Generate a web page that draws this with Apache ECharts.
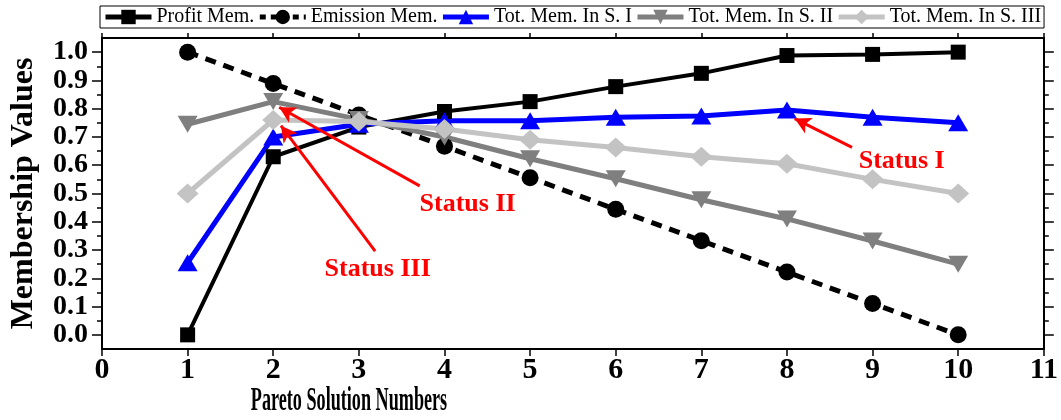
<!DOCTYPE html>
<html>
<head>
<meta charset="utf-8">
<script src="https://cdn.jsdelivr.net/npm/echarts@6/dist/echarts.min.js"></script>
<style>
  html, body { margin: 0; padding: 0; background: #fff; }
  #chart { width: 1061px; height: 420px; }
</style>
</head>
<body>
<div id="chart"></div>
<script>
// Pareto solutions and membership values per objective / status
const solutionNumbers = [1, 2, 3, 4, 5, 6, 7, 8, 9, 10];
const profitMem   = [0.0, 0.63, 0.735, 0.79, 0.825, 0.878, 0.925, 0.988, 0.992, 1.0];
const emissionMem = [1.0, 0.889, 0.778, 0.667, 0.556, 0.444, 0.333, 0.222, 0.111, 0.0];
const totMemS1    = [0.255, 0.70, 0.745, 0.757, 0.757, 0.77, 0.774, 0.795, 0.77, 0.75];
const totMemS2    = [0.745, 0.825, 0.762, 0.70, 0.623, 0.552, 0.478, 0.41, 0.332, 0.25];
const totMemS3    = [0.50, 0.76, 0.755, 0.728, 0.69, 0.663, 0.63, 0.605, 0.55, 0.50];

const seriesNames = ['Profit Mem.', 'Emission Mem.', 'Tot. Mem. In S. I', 'Tot. Mem. In S. II', 'Tot. Mem. In S. III'];
const xTicks = [0, 1, 2, 3, 4, 5, 6, 7, 8, 9, 10, 11];
const yTicks = [0.0, 0.1, 0.2, 0.3, 0.4, 0.5, 0.6, 0.7, 0.8, 0.9, 1.0];
const yMinorTicks = [0.05, 0.15, 0.25, 0.35, 0.45, 0.55, 0.65, 0.75, 0.85, 0.95];
const statusLabels = ['Status I', 'Status II', 'Status III'];

const SERIF = '"Liberation Serif", "Times New Roman", serif';
const Y_MIN = -0.05, Y_MAX = 1.05;

// annotation layout: arrow tail -> head and text anchor, in data units
const annotations = [
  { text: statusLabels[0], tail: [8.76, 0.663], head: [8.09, 0.765], at: [9.34, 0.615] },
  { text: statusLabels[1], tail: [3.71, 0.527], head: [2.07, 0.805], at: [4.27, 0.463] },
  { text: statusLabels[2], tail: [3.19, 0.296], head: [2.09, 0.74],  at: [3.22, 0.232] }
];

const pairs = arr => arr.map((v, i) => [solutionNumbers[i], v]);

function lineSeries(name, data, color, symbol, symbolSize, extra) {
  return Object.assign({
    name: name,
    type: 'line',
    data: pairs(data),
    symbol: symbol,
    symbolSize: symbolSize,
    itemStyle: { color: color, borderWidth: 0 },
    lineStyle: { color: color, width: 5 },
    emphasis: { disabled: true },
    animation: false
  }, extra || {});
}

function yAxisDef(position, ticks, len, labels) {
  return {
    type: 'value',
    position: position,
    min: Y_MIN,
    max: Y_MAX,
    axisLine: { show: labels, onZero: false, lineStyle: { color: '#000', width: 2 } },
    axisTick: { show: true, customValues: ticks, length: len, inside: false, lineStyle: { color: '#000', width: 1.5 } },
    axisLabel: labels && position === 'left' ? {
      show: true, customValues: yTicks, margin: 14,
      hideOverlap: false,
      showMinLabel: true, showMaxLabel: true,
      lineHeight: 20,
      formatter: v => v.toFixed(1),
      color: '#000', fontFamily: SERIF, fontWeight: 'bold', fontSize: 28
    } : { show: false },
    splitLine: { show: false }
  };
}

const chart = echarts.init(document.getElementById('chart'), null, { renderer: 'canvas' });

chart.setOption({
  backgroundColor: '#fff',
  animation: false,
  grid: { left: 97, right: 16, top: 38, bottom: 71, containLabel: false },
  legend: {
    data: [
      { name: seriesNames[0], lineStyle: { width: 5, color: '#000' } },
      { name: seriesNames[1], lineStyle: { width: 5, color: '#000', type: [6, 5] } },
      { name: seriesNames[2], lineStyle: { width: 5, color: '#0000FF' } },
      { name: seriesNames[3], lineStyle: { width: 5, color: '#7F7F7F' } },
      { name: seriesNames[4], lineStyle: { width: 5, color: '#C3C3C3' } }
    ],
    left: 100,
    top: 6,
    itemWidth: 46,
    itemHeight: 18,
    itemGap: 3,
    padding: [1, 3],
    borderColor: '#000',
    borderWidth: 1,
    backgroundColor: '#fff',
    textStyle: { color: '#000', fontFamily: SERIF, fontSize: 20 },
    selectedMode: false
  },
  xAxis: [
    {
      type: 'value', position: 'bottom', min: 0, max: 11, interval: 1,
      axisLine: { onZero: false, lineStyle: { color: '#000', width: 2 } },
      axisTick: { length: 7, inside: false, lineStyle: { color: '#000', width: 1.5 } },
      axisLabel: { color: '#000', fontFamily: SERIF, fontWeight: 'bold', fontSize: 30, margin: 6,
                   customValues: xTicks },
      splitLine: { show: false }
    },
    {
      type: 'value', position: 'top', min: 0, max: 11, interval: 1,
      axisLine: { onZero: false, lineStyle: { color: '#000', width: 2 } },
      axisTick: { length: 5, inside: false, lineStyle: { color: '#000', width: 1.5 } },
      axisLabel: { show: false },
      splitLine: { show: false }
    }
  ],
  yAxis: [
    Object.assign(yAxisDef('left', yTicks, 10, true), {
      name: 'Membership Values',
      nameLocation: 'middle',
      nameRotate: 90,
      nameGap: 62,
      nameTextStyle: { color: '#000', fontFamily: SERIF, fontWeight: 'bold', fontSize: 32 }
    }),
    yAxisDef('left', yMinorTicks, 5, false),
    yAxisDef('right', yTicks, 10, true),
    yAxisDef('right', yMinorTicks, 5, false)
  ],
  graphic: [{
    type: 'text',
    x: 349, y: 401,
    scaleX: 0.55,
    silent: true,
    style: {
      text: 'Pareto Solution Numbers',
      fill: '#000',
      font: 'bold 33px ' + SERIF,
      textAlign: 'center',
      textVerticalAlign: 'middle'
    }
  }],
  series: [
    lineSeries(seriesNames[0], profitMem, '#000000', 'rect', 15, { lineStyle: { color: '#000', width: 4 } }),
    lineSeries(seriesNames[1], emissionMem, '#000000', 'circle', 17, { lineStyle: { color: '#000', width: 5, type: [11, 8] } }),
    lineSeries(seriesNames[2], totMemS1, '#0000FF', 'triangle', [20, 17]),
    lineSeries(seriesNames[3], totMemS2, '#7F7F7F', 'triangle', [20, 17], { symbolRotate: 180 }),
    lineSeries(seriesNames[4], totMemS3, '#C3C3C3', 'diamond', [22, 20]),
    {
      name: 'status-notes',
      type: 'line',
      data: [],
      silent: true,
      animation: false,
      markLine: {
        silent: true,
        animation: false,
        symbol: ['none', 'arrow'],
        symbolSize: [13, 16],
        label: { show: false },
        emphasis: { disabled: true },
        lineStyle: { color: '#FF0000', width: 3, type: 'solid' },
        data: annotations.map(a => [{ coord: a.tail }, { coord: a.head }])
      },
      markPoint: {
        silent: true,
        animation: false,
        symbol: 'circle',
        symbolSize: 1,
        itemStyle: { color: 'rgba(0,0,0,0)' },
        label: {
          show: true, position: 'inside',
          color: '#FF0000', fontFamily: SERIF, fontWeight: 'bold', fontSize: 26,
          formatter: p => p.name
        },
        data: annotations.map(a => ({ name: a.text, coord: a.at }))
      }
    }
  ]
});
</script>
</body>
</html>
